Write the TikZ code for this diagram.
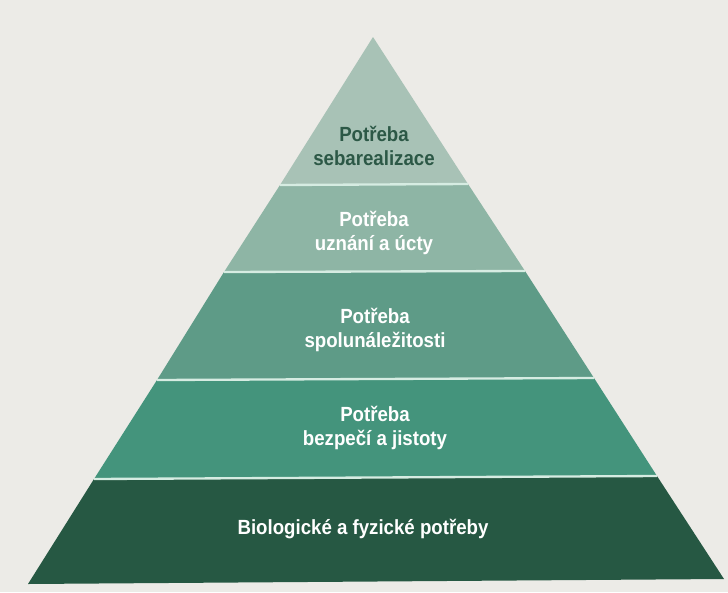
\documentclass[tikz,border=0pt]{standalone}
\usepackage{fontspec}
\setmainfont{Liberation Sans}[FakeStretch=0.91]
\usepackage{tikz}
\usetikzlibrary{positioning}
\definecolor{paper}{RGB}{236,235,231}
\definecolor{level5}{RGB}{168,194,182}
\definecolor{level4}{RGB}{142,181,165}
\definecolor{level3}{RGB}{94,155,135}
\definecolor{level2}{RGB}{68,148,124}
\definecolor{level1}{RGB}{38,88,67}
\definecolor{darkgreen}{RGB}{44,88,70}
\definecolor{mint}{RGB}{214,236,226}
\tikzset{
  label/.style={align=center, font=\bfseries\fontsize{17.5}{20}\selectfont, text=white},
  toplabel/.style={label, text=darkgreen},
  separator/.style={draw=mint, line width=0.7mm}
}

\begin{document}
\begin{tikzpicture}[x=0.3mm, y=-0.3mm]
\fill[paper] (0,0) rectangle (728,592);
\useasboundingbox (0,0) rectangle (728,592);

% band corners
\coordinate (apex) at (373,37);
\coordinate (l1) at (280,185); \coordinate (r1) at (468,184);
\coordinate (l2) at (224,272); \coordinate (r2) at (525,271);
\coordinate (l3) at (157,380); \coordinate (r3) at (594,378);
\coordinate (l4) at (94,479);  \coordinate (r4) at (657,476);
\coordinate (l5) at (28,584);  \coordinate (r5) at (724,579);

% bands, top to bottom
\fill[level5] (apex) -- (r1) -- (l1) -- cycle;
\fill[level4] (l1) -- (r1) -- (r2) -- (l2) -- cycle;
\fill[level3] (l2) -- (r2) -- (r3) -- (l3) -- cycle;
\fill[level2] (l3) -- (r3) -- (r4) -- (l4) -- cycle;
\fill[level1] (l4) -- (r4) -- (r5) -- (l5) -- cycle;

\draw[separator] (l1) -- (r1);
\draw[separator] (l2) -- (r2);
\draw[separator] (l3) -- (r3);
\draw[separator] (l4) -- (r4);

\node[toplabel] (self) at (374,146) {Potřeba\\sebarealizace};
\node[label] (esteem) at (374,233) {Potřeba\\uznání a úcty};
\node[label] (belong) at (375,330) {Potřeba\\spolunáležitosti};
\node[label] (safety) at (375,428) {Potřeba\\bezpečí a jistoty};
\node[label] (bio) at (363,529) {Biologické a fyzické potřeby};
\end{tikzpicture}
\end{document}
